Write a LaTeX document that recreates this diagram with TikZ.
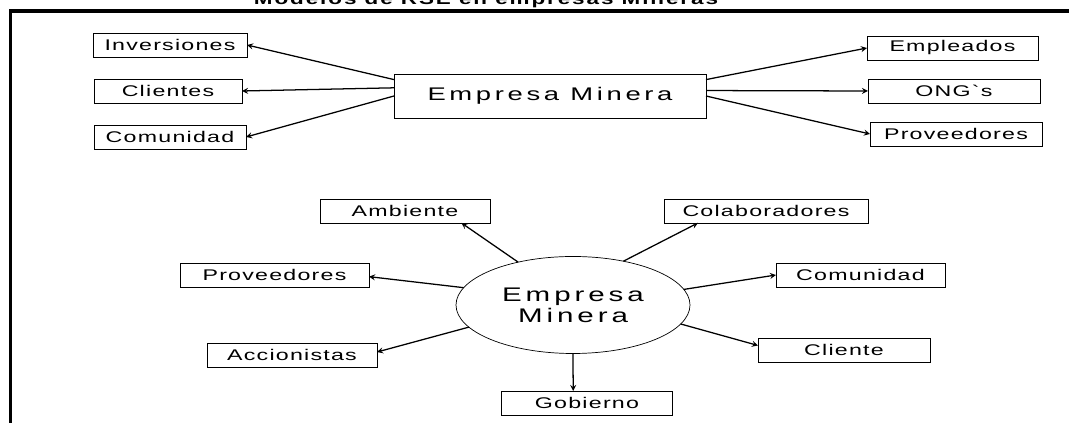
\documentclass[tikz,border=0pt]{standalone}
\usepackage{fontspec}
\newfontfamily\labelfont[FakeStretch=1.5,LetterSpace=8]{Liberation Sans}
\newfontfamily\bigfont[FakeStretch=1.5,LetterSpace=20]{Liberation Sans}
\newfontfamily\titlefont[FakeStretch=1.4,LetterSpace=12]{Liberation Sans}
\usetikzlibrary{arrows}
\usetikzlibrary{positioning}
\usetikzlibrary{shapes}
\tikzset{
  node distance = 1cm,
  > = stealth,
  actor/.style = {rectangle,
                  draw,
                  line width = 0.5pt,
                  font = \labelfont\fontsize{11}{13}\selectfont,
                  minimum height = 0.6cm,
                  inner sep = 0pt,
                  outer sep = 0pt},
  company/.style = {rectangle,
                    draw,
                    line width = 0.6pt,
                    font = \bigfont\fontsize{13}{15}\selectfont,
                    minimum width = 7.8cm,
                    minimum height = 1.1cm,
                    outer sep = 0pt},
  hub/.style = {ellipse,
                draw,
                line width = 0.5pt,
                align = center,
                font = \bigfont\fontsize{14}{15}\selectfont,
                minimum width = 5.85cm,
                minimum height = 2.425cm,
                inner sep = 0pt,
                outer sep = 0pt},
  link/.style = {->, line width = 0.9pt}
}

\begin{document}
\begin{tikzpicture}

\useasboundingbox (0,0) rectangle (26.725,10.575);

% frame and title
\coordinate (frame-right) at (26.725,10.3);
\coordinate (frame-corner) at (0.2625,10.3);
\coordinate (frame-bottom) at (0.2625,0);
\draw[line width = 2.4pt] (frame-right) -- (frame-corner) -- (frame-bottom);

\node[font = \titlefont\bfseries\fontsize{11.4}{13}\selectfont, anchor = base](title)
  at (12.15,10.45){Modelos de RSE en empresas Mineras};

% first model
\node[company](top-empresa) at (13.75,8.175){Empresa Minera};

\node[actor, minimum width = 3.85cm](top-inversiones)[left = 3.675cm of top-empresa, yshift = 1.275cm]{Inversiones};

\node[actor, minimum width = 3.7cm](top-clientes)[left = 3.8cm of top-empresa, yshift = 0.125cm]{Clientes};

\node[actor, minimum width = 3.8cm](top-comunidad)[left = 3.7cm of top-empresa, yshift = -1.025cm]{Comunidad};

\node[actor, minimum width = 4.275cm](top-empleados)[right = 4.025cm of top-empresa, yshift = 1.2cm]{Empleados};

\node[actor, minimum width = 4.3cm](top-ongs)[right = 4.05cm of top-empresa, yshift = 0.125cm]{ONG`s};

\node[actor, minimum width = 4.3cm](top-proveedores)[right = 4.1cm of top-empresa, yshift = -0.95cm]{Proveedores};

\draw[link] (top-empresa.174.5) -- (top-inversiones.east);
\draw[link] (top-empresa.177.4) -- (top-clientes.east);
\draw[link] (top-empresa.west) -- (top-comunidad.east);
\draw[link] (top-empresa.6.2) -- (top-empleados.west);
\draw[link] (top-empresa.2.9) -- (top-ongs.west);
\draw[link] (top-empresa.east) -- (top-proveedores.west);

% second model
\node[hub](bot-empresa) at (14.325,2.95){Empresa\\Minera};

\node[actor, minimum width = 4.25cm](bot-ambiente)[above = 0.8375cm of bot-empresa, xshift = -4.2cm]{Ambiente};

\node[actor, minimum width = 5.1cm](bot-colaboradores)[above = 0.8375cm of bot-empresa, xshift = 4.825cm]{Colaboradores};

\node[actor, minimum width = 4.725cm](bot-proveedores)[left = 2.175cm of bot-empresa, yshift = 0.75cm]{Proveedores};

\node[actor, minimum width = 4.25cm](bot-accionistas)[left = 1.975cm of bot-empresa, yshift = -1.25cm]{Accionistas};

\node[actor, minimum width = 4.225cm](bot-comunidad)[right = 2.15cm of bot-empresa, yshift = 0.75cm]{Comunidad};

\node[actor, minimum width = 4.3cm](bot-cliente)[right = 1.7cm of bot-empresa, yshift = -1.125cm]{Cliente};

\node[actor, minimum width = 4.275cm](bot-gobierno)[below = 0.9375cm of bot-empresa, xshift = 0.35cm]{Gobierno};

\draw[link] (bot-empresa.142.5) -- (bot-ambiente.-12.5);
\draw[link] (bot-empresa.41.3) -- (bot-colaboradores.-170.7);
\draw[link] (bot-empresa.171.6) -- (bot-proveedores.-1);
\draw[link] (bot-empresa.-168) -- (bot-accionistas.2);
\draw[link] (bot-empresa.8.8) -- (bot-comunidad.west);
\draw[link] (bot-empresa.-10.6) -- (bot-cliente.177.3);
\draw[link] (bot-empresa.south) -- (bot-gobierno.139.4);

\end{tikzpicture}
\end{document}
